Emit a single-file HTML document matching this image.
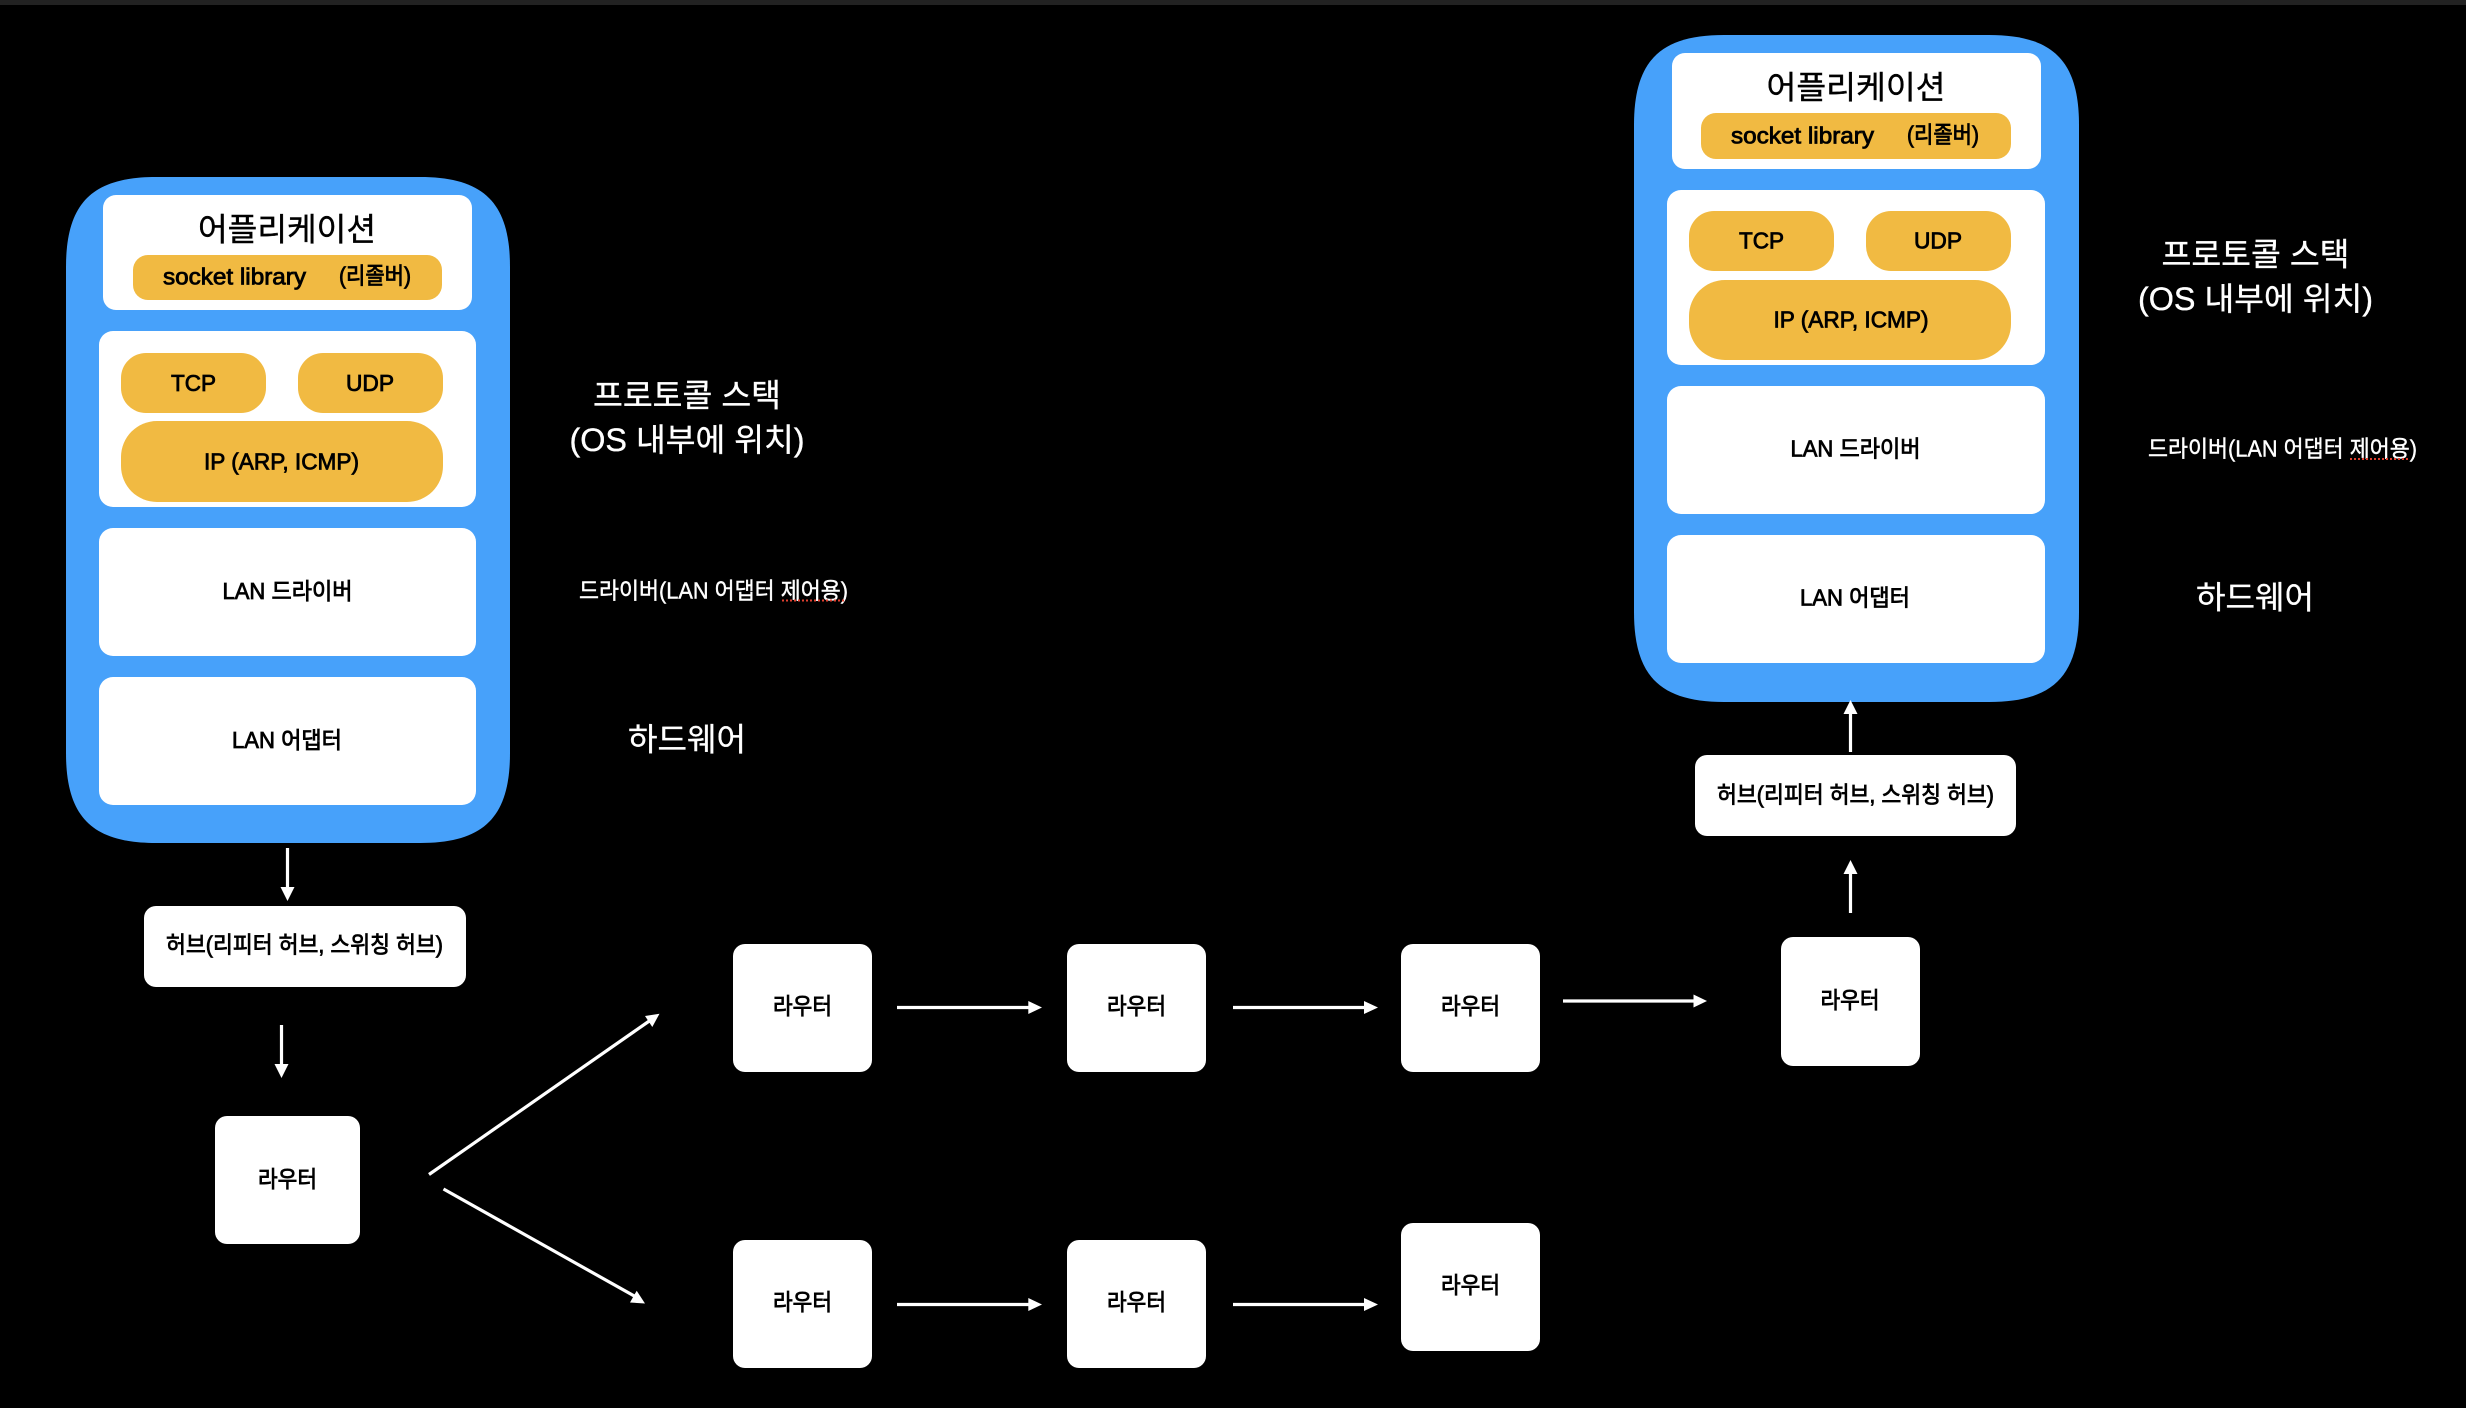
<!DOCTYPE html>
<html lang="ko"><head><meta charset="utf-8"><title>Network diagram</title>
<style>
html,body{margin:0;padding:0;background:#000;width:2466px;height:1408px;overflow:hidden}
svg{display:block}
text{font-family:"Liberation Sans","Noto Sans CJK KR",sans-serif;dominant-baseline:central}
.k{fill:#000;stroke:#000;stroke-width:.8px;font-size:23px}
.w{fill:#fff;stroke:#fff;stroke-width:.35px;font-size:32px}
.t{fill:#000;stroke:#000;stroke-width:.4px;font-size:32px}
.s{fill:#fff;stroke:#fff;stroke-width:.4px;font-size:23px}
.b{fill:#47a1fa}.o{fill:#f1ba42}.f{fill:#fff}
.l{stroke:#fff;stroke-width:3.2px;fill:none}
.h{fill:#fff}
.r{stroke:#e0402f;stroke-width:2px;stroke-dasharray:2 2;fill:none}
</style></head><body>
<svg width="2466" height="1408" viewBox="0 0 2466 1408" xmlns="http://www.w3.org/2000/svg">
<rect width="2466" height="1408" fill="#000"/>
<rect width="2466" height="5" fill="#222"/>

<!-- left stack -->
<path class="b" d="M66 267C66 203 92 177 156 177H420C484 177 510 203 510 267V753C510 817 484 843 420 843H156C92 843 66 817 66 753Z"/>
<rect class="f" x="103" y="195" width="369" height="115" rx="13"/>
<text class="t" x="287" y="229.500" text-anchor="middle" textLength="178" lengthAdjust="spacingAndGlyphs">어플리케이션</text>
<rect class="o" x="133" y="255" width="309" height="45" rx="15"/>
<text class="k" x="163" y="276.500" textLength="143" lengthAdjust="spacingAndGlyphs">socket library</text>
<text class="k" x="339" y="275.500" textLength="72" lengthAdjust="spacingAndGlyphs">(리졸버)</text>
<rect class="f" x="99" y="331" width="377" height="176" rx="14"/>
<rect class="o" x="121" y="353" width="145" height="60" rx="25"/>
<rect class="o" x="298" y="353" width="145" height="60" rx="25"/>
<rect class="o" x="121" y="421" width="322" height="81" rx="36"/>
<text class="k" x="193.500" y="383" text-anchor="middle" textLength="45" lengthAdjust="spacingAndGlyphs">TCP</text>
<text class="k" x="370" y="383" text-anchor="middle" textLength="48" lengthAdjust="spacingAndGlyphs">UDP</text>
<text class="k" x="281.500" y="461.500" text-anchor="middle" textLength="155" lengthAdjust="spacingAndGlyphs">IP (ARP, ICMP)</text>
<rect class="f" x="99" y="528" width="377" height="128" rx="14"/>
<text class="k" x="287.500" y="591" text-anchor="middle" textLength="130" lengthAdjust="spacingAndGlyphs">LAN 드라이버</text>
<rect class="f" x="99" y="677" width="377" height="128" rx="14"/>
<text class="k" x="287" y="740" text-anchor="middle" textLength="110" lengthAdjust="spacingAndGlyphs">LAN 어댑터</text>

<text class="w" x="687" y="395.500" text-anchor="middle" textLength="188" lengthAdjust="spacingAndGlyphs">프로토콜 스택</text>
<text class="w" x="687" y="440" text-anchor="middle" textLength="235" lengthAdjust="spacingAndGlyphs">(OS 내부에 위치)</text>
<text class="s" x="579" y="590.500" textLength="269" lengthAdjust="spacingAndGlyphs">드라이버(LAN 어댑터 제어용)</text>
<path class="r" d="M782 600.500H846"/>
<text class="w" x="687" y="739.500" text-anchor="middle" textLength="118" lengthAdjust="spacingAndGlyphs">하드웨어</text>

<!-- right stack -->
<path class="b" d="M1634 125C1634 61 1660 35 1724 35H1989C2053 35 2079 61 2079 125V612C2079 676 2053 702 1989 702H1724C1660 702 1634 676 1634 612Z"/>
<rect class="f" x="1672" y="53" width="369" height="116" rx="13"/>
<text class="t" x="1856" y="87.500" text-anchor="middle" textLength="179" lengthAdjust="spacingAndGlyphs">어플리케이션</text>
<rect class="o" x="1701" y="113" width="310" height="46" rx="15"/>
<text class="k" x="1731" y="135.500" textLength="143" lengthAdjust="spacingAndGlyphs">socket library</text>
<text class="k" x="1907" y="134.500" textLength="72" lengthAdjust="spacingAndGlyphs">(리졸버)</text>
<rect class="f" x="1667" y="190" width="378" height="175" rx="14"/>
<rect class="o" x="1689" y="211" width="145" height="60" rx="25"/>
<rect class="o" x="1866" y="211" width="145" height="60" rx="25"/>
<rect class="o" x="1689" y="280" width="322" height="80" rx="36"/>
<text class="k" x="1761.500" y="240.500" text-anchor="middle" textLength="45" lengthAdjust="spacingAndGlyphs">TCP</text>
<text class="k" x="1938" y="240.500" text-anchor="middle" textLength="48" lengthAdjust="spacingAndGlyphs">UDP</text>
<text class="k" x="1851" y="319.500" text-anchor="middle" textLength="155" lengthAdjust="spacingAndGlyphs">IP (ARP, ICMP)</text>
<rect class="f" x="1667" y="386" width="378" height="128" rx="14"/>
<text class="k" x="1855.500" y="448.500" text-anchor="middle" textLength="130" lengthAdjust="spacingAndGlyphs">LAN 드라이버</text>
<rect class="f" x="1667" y="535" width="378" height="128" rx="14"/>
<text class="k" x="1855" y="597.500" text-anchor="middle" textLength="110" lengthAdjust="spacingAndGlyphs">LAN 어댑터</text>

<text class="w" x="2255.500" y="254.500" text-anchor="middle" textLength="188" lengthAdjust="spacingAndGlyphs">프로토콜 스택</text>
<text class="w" x="2255.500" y="299" text-anchor="middle" textLength="235" lengthAdjust="spacingAndGlyphs">(OS 내부에 위치)</text>
<text class="s" x="2148" y="448.500" textLength="269" lengthAdjust="spacingAndGlyphs">드라이버(LAN 어댑터 제어용)</text>
<path class="r" d="M2350 459H2409"/>
<text class="w" x="2255" y="597.500" text-anchor="middle" textLength="118" lengthAdjust="spacingAndGlyphs">하드웨어</text>

<!-- hubs -->
<rect class="f" x="144" y="906" width="322" height="81" rx="12"/>
<text class="k" x="304.500" y="944.500" text-anchor="middle" textLength="277" lengthAdjust="spacingAndGlyphs">허브(리피터 허브, 스위칭 허브)</text>
<rect class="f" x="1695" y="755" width="321" height="81" rx="12"/>
<text class="k" x="1855.500" y="794.500" text-anchor="middle" textLength="277" lengthAdjust="spacingAndGlyphs">허브(리피터 허브, 스위칭 허브)</text>

<!-- routers -->
<rect class="f" x="215" y="1116" width="145" height="128" rx="12"/>
<text class="k" x="287.500" y="1179" text-anchor="middle" textLength="59" lengthAdjust="spacingAndGlyphs">라우터</text>
<rect class="f" x="733" y="944" width="139" height="128" rx="12"/>
<text class="k" x="802.500" y="1006" text-anchor="middle" textLength="59" lengthAdjust="spacingAndGlyphs">라우터</text>
<rect class="f" x="1067" y="944" width="139" height="128" rx="12"/>
<text class="k" x="1136.500" y="1006" text-anchor="middle" textLength="59" lengthAdjust="spacingAndGlyphs">라우터</text>
<rect class="f" x="1401" y="944" width="139" height="128" rx="12"/>
<text class="k" x="1470.500" y="1006" text-anchor="middle" textLength="59" lengthAdjust="spacingAndGlyphs">라우터</text>
<rect class="f" x="1781" y="937" width="139" height="129" rx="12"/>
<text class="k" x="1850" y="1000" text-anchor="middle" textLength="59" lengthAdjust="spacingAndGlyphs">라우터</text>
<rect class="f" x="733" y="1240" width="139" height="128" rx="12"/>
<text class="k" x="802.500" y="1302" text-anchor="middle" textLength="59" lengthAdjust="spacingAndGlyphs">라우터</text>
<rect class="f" x="1067" y="1240" width="139" height="128" rx="12"/>
<text class="k" x="1136.500" y="1302" text-anchor="middle" textLength="59" lengthAdjust="spacingAndGlyphs">라우터</text>
<rect class="f" x="1401" y="1223" width="139" height="128" rx="12"/>
<text class="k" x="1470.500" y="1285" text-anchor="middle" textLength="59" lengthAdjust="spacingAndGlyphs">라우터</text>

<!-- arrows -->
<path class="l" d="M287.500 848V889"/><path class="h" d="M280.500 887H294.500L287.500 901Z"/>
<path class="l" d="M281.500 1025V1066"/><path class="h" d="M274.500 1064H288.500L281.500 1078Z"/>
<path class="l" d="M429 1174.500L650 1020.500"/><path class="h" d="M659.500 1013.700L652.300 1027L645 1016Z"/>
<path class="l" d="M443.500 1189L636 1297"/><path class="h" d="M645 1303.500L630 1302.500L636.700 1290.700Z"/>
<path class="l" d="M897 1007.500H1031"/><path class="h" d="M1028.300 1001L1042 1007.500L1028.300 1014Z"/>
<path class="l" d="M1233 1007.500H1366"/><path class="h" d="M1364 1001L1378 1007.500L1364 1014Z"/>
<path class="l" d="M1563 1001H1696"/><path class="h" d="M1693.500 994.500L1707 1001L1693.500 1007.500Z"/>
<path class="l" d="M897 1304.500H1031"/><path class="h" d="M1028.300 1298L1042 1304.500L1028.300 1311Z"/>
<path class="l" d="M1233 1304.500H1366"/><path class="h" d="M1364 1298L1378 1304.500L1364 1311Z"/>
<path class="l" d="M1850.500 913V872"/><path class="h" d="M1843.500 874L1850.500 860L1857.500 874Z"/>
<path class="l" d="M1850.500 752V712"/><path class="h" d="M1843.500 714L1850.500 700L1857.500 714Z"/>
</svg>
</body></html>
